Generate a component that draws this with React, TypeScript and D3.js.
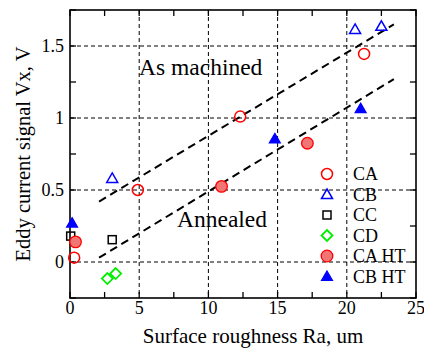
import { useEffect, useRef } from "react"
import * as d3 from "d3"

// values (x = Ra um, y = Vx V)
const caPoints: [number, number][] = [[0.3, 0.03], [4.9, 0.5], [12.3, 1.01], [21.25, 1.445]]
const cbPoints: [number, number][] = [[3.05, 0.58], [20.6, 1.615], [22.5, 1.637]]
const ccPoints: [number, number][] = [[0.05, 0.18], [3.05, 0.155]]
const cdPoints: [number, number][] = [[2.7, -0.115], [3.3, -0.08]]
const caHtPoints: [number, number][] = [[0.4, 0.14], [10.95, 0.525], [17.15, 0.825]]
const cbHtPoints: [number, number][] = [[0.15, 0.27], [14.8, 0.855], [21.0, 1.065]]

const machinedFit: [number, number][] = [[2.1, 0.42], [23.4, 1.65]]
const annealedFit: [number, number][] = [[2.1, 0.03], [23.4, 1.27]]

const xTicks = [0, 5, 10, 15, 20, 25]
const yTicks = [0, 0.5, 1, 1.5]
const yTickLabels = ["0", "0.5", "1", "1.5"]

const seriesNames = ["CA", "CB", "CC", "CD", "CA HT", "CB HT"]

export default function App() {
  const svgRef = useRef<SVGSVGElement>(null)

  useEffect(() => {
    if (!svgRef.current) return
    const svg = d3.select(svgRef.current)
    svg.selectAll("*").remove()

    const font = "'Liberation Serif', 'Times New Roman', serif"
    const left = 70, right = 416, top = 10, bottom = 298

    const x = d3.scaleLinear().domain([0, 25]).range([left, right])
    const y = d3.scaleLinear().domain([-0.25, 1.75]).range([bottom, top])

    const g = svg.append("g")

    // grid
    xTicks.filter((t) => t > 0 && t < 25).forEach((t) => {
      g.append("line")
        .attr("x1", x(t)).attr("x2", x(t))
        .attr("y1", top).attr("y2", bottom)
        .attr("stroke", "#000").attr("stroke-width", 1)
        .attr("stroke-dasharray", "4,3")
    })
    yTicks.forEach((t) => {
      g.append("line")
        .attr("x1", left).attr("x2", right)
        .attr("y1", y(t)).attr("y2", y(t))
        .attr("stroke", "#000").attr("stroke-width", 1)
        .attr("stroke-dasharray", "4,3")
    })

    // ticks on all four sides, pointing in
    const xMinor = d3.range(0, 25.01, 2.5)
    const yMinor = d3.range(-0.25, 1.751, 0.25)
    xMinor.forEach((t) => {
      const len = 6
      g.append("line").attr("x1", x(t)).attr("x2", x(t)).attr("y1", bottom).attr("y2", bottom - len)
        .attr("stroke", "#000").attr("stroke-width", 1.3)
      g.append("line").attr("x1", x(t)).attr("x2", x(t)).attr("y1", top).attr("y2", top + len)
        .attr("stroke", "#000").attr("stroke-width", 1.3)
    })
    yMinor.forEach((t) => {
      const len = 6
      g.append("line").attr("x1", left).attr("x2", left + len).attr("y1", y(t)).attr("y2", y(t))
        .attr("stroke", "#000").attr("stroke-width", 1.3)
      g.append("line").attr("x1", right).attr("x2", right - len).attr("y1", y(t)).attr("y2", y(t))
        .attr("stroke", "#000").attr("stroke-width", 1.3)
    })

    // frame
    g.append("rect")
      .attr("x", left).attr("y", top)
      .attr("width", right - left).attr("height", bottom - top)
      .attr("fill", "none").attr("stroke", "#000").attr("stroke-width", 1.6)

    // tick labels
    xTicks.forEach((t) => {
      g.append("text")
        .attr("x", x(t)).attr("y", 314)
        .attr("text-anchor", "middle")
        .style("font-family", font).style("font-size", "18px")
        .text(String(t))
    })
    yTicks.forEach((t, i) => {
      g.append("text")
        .attr("x", 64).attr("y", y(t) + 6)
        .attr("text-anchor", "end")
        .style("font-family", font).style("font-size", "18px")
        .text(yTickLabels[i])
    })

    // axis titles
    g.append("text")
      .attr("x", (left + right) / 2 + 10).attr("y", 343)
      .attr("text-anchor", "middle")
      .style("font-family", font).style("font-size", "21px")
      .text("Surface roughness Ra, um")
    g.append("text")
      .attr("transform", `translate(30,${(46 + 262) / 2}) rotate(-90)`)
      .attr("text-anchor", "middle")
      .style("font-family", font).style("font-size", "20.5px")
      .text("Eddy current signal Vx, V")

    // fit lines
    const line = d3.line<[number, number]>().x((d) => x(d[0])).y((d) => y(d[1]))
    ;[machinedFit, annealedFit].forEach((d) => {
      g.append("path")
        .attr("d", line(d))
        .attr("fill", "none").attr("stroke", "#000")
        .attr("stroke-width", 2).attr("stroke-dasharray", "8,5")
    })

    // region labels
    g.append("text").attr("x", 139).attr("y", 75)
      .style("font-family", font).style("font-size", "23.5px")
      .text("As machined")
    g.append("text").attr("x", 177).attr("y", 227)
      .style("font-family", font).style("font-size", "23.5px")
      .text("Annealed")

    // markers
    const triPath = (cx: number, cy: number) =>
      `M${cx},${cy - 5.5}L${cx + 5.5},${cy + 4}L${cx - 5.5},${cy + 4}Z`
    const drawMarker = (kind: number, cx: number, cy: number) => {
      if (kind === 0) {
        g.append("circle").attr("cx", cx).attr("cy", cy).attr("r", 5.5)
          .attr("fill", "none").attr("stroke", "#ff0000").attr("stroke-width", 1.5)
      } else if (kind === 1) {
        g.append("path").attr("d", triPath(cx, cy))
          .attr("fill", "none").attr("stroke", "#0000ff").attr("stroke-width", 1.5)
      } else if (kind === 2) {
        g.append("rect").attr("x", cx - 4).attr("y", cy - 4).attr("width", 8).attr("height", 8)
          .attr("fill", "none").attr("stroke", "#000").attr("stroke-width", 1.5)
      } else if (kind === 3) {
        g.append("path").attr("d", `M${cx},${cy - 5.5}L${cx + 5.5},${cy}L${cx},${cy + 5.5}L${cx - 5.5},${cy}Z`)
          .attr("fill", "none").attr("stroke", "#00ee00").attr("stroke-width", 1.8)
      } else if (kind === 4) {
        g.append("circle").attr("cx", cx).attr("cy", cy).attr("r", 5.8)
          .attr("fill", "#f07676").attr("stroke", "#ff0000").attr("stroke-width", 1.3)
      } else {
        g.append("path").attr("d", triPath(cx, cy))
          .attr("fill", "#0000ff").attr("stroke", "#0000ff").attr("stroke-width", 1.2)
      }
    }

    const allSeries = [caPoints, cbPoints, ccPoints, cdPoints, caHtPoints, cbHtPoints]
    allSeries.forEach((pts, k) => {
      pts.forEach((p) => drawMarker(k, x(p[0]), y(p[1])))
    })

    // legend
    seriesNames.forEach((name, i) => {
      const cy = 174 + i * 20.5
      drawMarker(i, 327, cy)
      g.append("text").attr("x", 353).attr("y", cy + 6)
        .style("font-family", font).style("font-size", "18px")
        .text(name)
    })
  }, [])

  return (
    <div style={{ position: "absolute", left: 0, top: 0 }}>
      <svg ref={svgRef} width={424} height={349} style={{ display: "block", background: "#fff" }} />
    </div>
  )
}
